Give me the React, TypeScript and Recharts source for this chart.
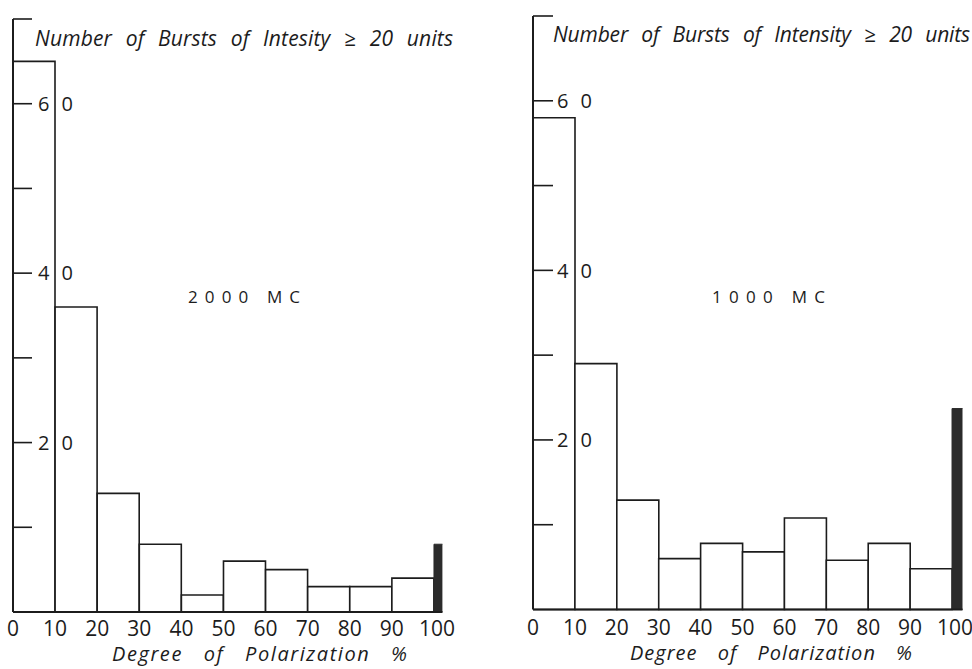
import React from 'react';
import { ComposedChart, Bar, XAxis, YAxis } from 'recharts';

// Degree of polarization (%) – bin centres and tick labels
const polarizationTicks = [0, 10, 20, 30, 40, 50, 60, 70, 80, 90, 100];
const binCentres = [5, 15, 25, 35, 45, 55, 65, 75, 85, 95];
const fullPolarizationCentre = 105; // the 100 % (completely polarized) column
// Number of bursts of intensity >= 20 units
const counts2000 = [65, 36, 14, 8, 2, 6, 5, 3, 3, 4];
const full2000 = 8;
const counts1000 = [58, 29, 12.9, 6, 7.8, 6.8, 10.8, 5.8, 7.8, 4.8];
const full1000 = 23.7;
const countTicks = [10, 20, 30, 40, 50, 60, 70];
const labelledCounts = [20, 40, 60];

const INK = '#1c1c1c';
const FONT = "'Open Sans', 'DejaVu Sans', sans-serif";

const makeRows = (counts: number[], full: number) => [
  ...binCentres.map((x, i) => ({ x, count: counts[i], full: 0 })),
  { x: fullPolarizationCentre, count: 0, full },
];

const makeYTick = (tickLen: number, labelDx: number) => (props: any) => {
  const { x, y, payload } = props;
  const v = payload.value;
  return (
    <g>
      <line x1={x} x2={x + tickLen} y1={y} y2={y} stroke={INK} strokeWidth={1.6} />
      {labelledCounts.includes(v) && (
        <text
          x={x + labelDx}
          y={y}
          dy="0.36em"
          fontSize={20}
          fontFamily={FONT}
          fill={INK}
          letterSpacing={12}
        >
          {v}
        </text>
      )}
    </g>
  );
};

const makeXTick = (dy: number) => (props: any) => {
  const { x, y, payload } = props;
  return (
    <text
      x={x + (payload.value === 100 ? 3 : 0)}
      y={y + dy}
      textAnchor="middle"
      fontSize={21}
      fontFamily={FONT}
      fill={INK}
    >
      {payload.value}
    </text>
  );
};

type PanelProps = {
  counts: number[];
  full: number;
  xMax: number;
  margin: { top: number; right: number; bottom: number; left: number };
  left: number;
  tickLen: number;
  labelDx: number;
  xLabelDy: number;
};

const Panel = ({ counts, full, xMax, margin, left, tickLen, labelDx, xLabelDy }: PanelProps) => (
  <div style={{ position: 'absolute', left, top: 0 }}>
    <ComposedChart
      width={486}
      height={669}
      data={makeRows(counts, full)}
      margin={margin}
      barCategoryGap={0}
      barGap={0}
    >
      <XAxis
        type="number"
        dataKey="x"
        domain={[0, xMax]}
        allowDataOverflow
        ticks={polarizationTicks}
        interval={0}
        height={1}
        tickSize={0}
        tickMargin={0}
        tickLine={false}
        axisLine={{ stroke: INK, strokeWidth: 2 }}
        tick={makeXTick(xLabelDy)}
      />
      <YAxis
        type="number"
        domain={[0, 70]}
        ticks={countTicks}
        interval={0}
        width={1}
        tickSize={0}
        tickMargin={0}
        tickLine={false}
        axisLine={{ stroke: INK, strokeWidth: 2 }}
        tick={makeYTick(tickLen, labelDx)}
      />
      <Bar
        dataKey="count"
        stackId="h"
        fill="#ffffff"
        stroke={INK}
        strokeWidth={1.6}
        isAnimationActive={false}
      />
      <Bar
        dataKey="full"
        stackId="h"
        fill="#2b2b2b"
        stroke="#2b2b2b"
        strokeWidth={1}
        isAnimationActive={false}
      />
    </ComposedChart>
  </div>
);

export default function App() {
  return (
    <div
      style={{
        position: 'absolute',
        left: 0,
        top: 0,
        width: 972,
        height: 669,
        background: '#ffffff',
        overflow: 'hidden',
      }}
    >
      <Panel
        counts={counts2000}
        full={full2000}
        xMax={102}
        margin={{ top: 19, right: 43.6, bottom: 56, left: 12 }}
        left={0}
        tickLen={19}
        labelDx={25}
        xLabelDy={24}
      />
      <Panel
        counts={counts1000}
        full={full1000}
        xMax={102.5}
        margin={{ top: 16, right: 9.5, bottom: 58.5, left: 46 }}
        left={486}
        tickLen={20}
        labelDx={24}
        xLabelDy={25}
      />
      <svg
        width={972}
        height={669}
        style={{ position: 'absolute', left: 0, top: 0, pointerEvents: 'none' }}
      >
        <g fontFamily={FONT} fill={INK}>
          <text x={35} y={46} fontSize={21} fontStyle="italic" wordSpacing={8} textLength={418} lengthAdjust="spacing">
            Number of Bursts of Intesity ≥ 20 units
          </text>
          <text x={553} y={42} fontSize={21} fontStyle="italic" wordSpacing={8} textLength={417} lengthAdjust="spacing">
            Number of Bursts of Intensity ≥ 20 units
          </text>
          <text x={112} y={661} fontSize={20} fontStyle="italic" wordSpacing={14} textLength={295} lengthAdjust="spacing">
            Degree of Polarization %
          </text>
          <text x={630} y={660} fontSize={20} fontStyle="italic" wordSpacing={14} textLength={282} lengthAdjust="spacing">
            Degree of Polarization %
          </text>
          <text x={188} y={303} fontSize={17} textLength={112} lengthAdjust="spacing">
            2000 MC
          </text>
          <text x={712} y={303} fontSize={17} textLength={113} lengthAdjust="spacing">
            1000 MC
          </text>
        </g>
      </svg>
    </div>
  );
}
